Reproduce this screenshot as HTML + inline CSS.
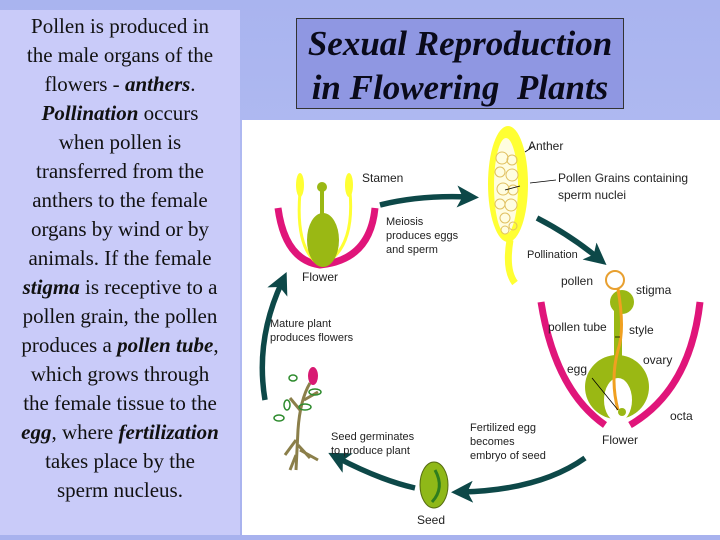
<!DOCTYPE html>
<html><head><meta charset="utf-8"><style>
body{margin:0;width:720px;height:540px;overflow:hidden;background:linear-gradient(180deg,#a9b4ef,#b4bdf3 50%,#a8b2ee);font-family:"Liberation Sans",sans-serif;position:relative}
#lt{position:absolute;left:0;top:10px;width:240px;height:525px;background:#c9cbf9}
#lt div{position:absolute;left:0;width:240px;text-align:center;font-family:"Liberation Serif",serif;font-size:21px;line-height:29px;color:#111}
#ttl{position:absolute;left:296px;top:18px;width:328px;height:91px;background:#8f97e2;border:1px solid #333;box-sizing:border-box;text-align:center;font-family:"Liberation Serif",serif;font-style:italic;font-weight:bold;font-size:35px;line-height:44px;color:#0a0a1a;padding-top:3px}
</style></head><body>
<div id="lt">
<div style="top:2px">Pollen is produced in</div>
<div style="top:31px">the male organs of the</div>
<div style="top:60px">flowers - <b><i>anthers</i></b>.</div>
<div style="top:89px"><b><i>Pollination</i></b> occurs</div>
<div style="top:118px">when pollen is</div>
<div style="top:147px">transferred from the</div>
<div style="top:176px">anthers to the female</div>
<div style="top:205px">organs by wind or by</div>
<div style="top:234px">animals. If the female</div>
<div style="top:263px"><b><i>stigma</i></b> is receptive to a</div>
<div style="top:292px">pollen grain, the pollen</div>
<div style="top:321px">produces a <b><i>pollen tube</i></b>,</div>
<div style="top:350px">which grows through</div>
<div style="top:379px">the female tissue to the</div>
<div style="top:408px"><b><i>egg</i></b>, where <b><i>fertilization</i></b></div>
<div style="top:437px">takes place by the</div>
<div style="top:466px">sperm nucleus.</div>
</div>
<div id="ttl">Sexual Reproduction<br>in Flowering&nbsp; Plants</div>
<svg width="478" height="415" viewBox="242 120 478 415" style="position:absolute;left:242px;top:120px">
<rect x="242" y="120" width="478" height="415" fill="#fff"/>
<defs><marker id="ah" markerWidth="4" markerHeight="4" refX="2" refY="2" orient="auto"><path d="M0,0 L4,2 L0,4 L1,2z" fill="#0d4848"/></marker></defs>
<g fill="none" stroke="#0d4848" stroke-width="5.5" marker-end="url(#ah)">
<path d="M380,205 Q420,195 468,197"/>
<path d="M537,218 Q570,235 598,258"/>
<path d="M585,458 Q540,490 462,492"/>
<path d="M415,488 Q380,480 338,458"/>
<path d="M265,400 Q255,340 282,282"/>
</g>
<path d="M278,208 Q285,260 320,265 Q370,260 375,208" fill="none" stroke="#e0157a" stroke-width="7"/>
<g stroke="#ffff33" stroke-width="3" fill="none"><path d="M300,192 Q295,250 320,265"/><path d="M350,192 Q355,250 322,265"/></g>
<ellipse cx="300" cy="185" rx="4" ry="12" fill="#ffff33"/><ellipse cx="349" cy="185" rx="4" ry="12" fill="#ffff33"/>
<rect x="320" y="190" width="4" height="30" fill="#9ab814"/><circle cx="322" cy="187" r="5" fill="#9ab814"/>
<ellipse cx="323" cy="240" rx="16" ry="27" fill="#9ab814"/>
<path d="M510,240 Q505,270 515,283" stroke="#ffff33" stroke-width="7" fill="none"/>
<ellipse cx="508" cy="184" rx="20" ry="58" fill="#ffff33"/>
<ellipse cx="506" cy="186" rx="12" ry="48" fill="#fffde0"/>
<g fill="none" stroke="#e0c060" stroke-width="1"><circle cx="502" cy="158" r="6"/><circle cx="512" cy="160" r="5"/><circle cx="500" cy="172" r="5"/><circle cx="512" cy="175" r="6"/><circle cx="503" cy="189" r="6"/><circle cx="513" cy="190" r="5"/><circle cx="500" cy="204" r="5"/><circle cx="511" cy="205" r="6"/><circle cx="505" cy="218" r="5"/><circle cx="513" cy="226" r="4"/><circle cx="505" cy="230" r="4"/></g>
<path d="M525,152 L534,146 M530,183 L556,180 M505,190 L520,186" stroke="#000" stroke-width="0.8"/>
<path d="M541,302 Q555,390 605,425 M700,302 Q690,390 630,425" fill="none" stroke="#e0157a" stroke-width="7"/>
<circle cx="617" cy="387" r="32" fill="#9ab814"/>
<ellipse cx="618" cy="400" rx="14" ry="22" fill="#fff"/>
<rect x="614" y="300" width="8" height="65" fill="#9ab814"/>
<circle cx="622" cy="302" r="12" fill="#9ab814"/>
<circle cx="615" cy="280" r="9" fill="#fff" stroke="#e8a030" stroke-width="2"/>
<path d="M618,289 Q625,330 618,350 Q610,380 618,410" stroke="#f0a020" stroke-width="3" fill="none"/>
<circle cx="622" cy="412" r="4" fill="#9ab814"/>
<path d="M592,378 L618,410 M615,337 L620,337" stroke="#000" stroke-width="0.8"/>
<ellipse cx="434" cy="485" rx="14" ry="23" fill="#8fb818" stroke="#556b10"/>
<path d="M435,470 Q445,488 432,502" stroke="#2e7d1e" stroke-width="3" fill="none"/>
<g stroke="#8b7f4a" stroke-width="3" fill="none"><path d="M296,470 L298,430 Q300,400 310,383"/><path d="M296,440 L285,455 M298,445 L310,458 M296,455 L290,470 M300,450 L318,460"/><path d="M300,410 L290,398 M304,400 L318,392"/></g>
<ellipse cx="313" cy="376" rx="5" ry="9" fill="#d81a72"/>
<g fill="none" stroke="#2e8b2e" stroke-width="1.5"><ellipse cx="293" cy="378" rx="4" ry="3"/><ellipse cx="315" cy="392" rx="6" ry="3"/><ellipse cx="287" cy="405" rx="3" ry="5"/><ellipse cx="305" cy="407" rx="6" ry="3"/><ellipse cx="279" cy="418" rx="5" ry="3"/></g>
<g font-size="11" fill="#222" font-family="Liberation Sans,sans-serif">
<text x="362" y="182" font-size="12">Stamen</text>
<text x="302" y="281" font-size="12">Flower</text>
<text x="386" y="225">Meiosis</text><text x="386" y="239">produces eggs</text><text x="386" y="253">and sperm</text>
<text x="528" y="150" font-size="12">Anther</text>
<text x="558" y="182" font-size="12">Pollen Grains containing</text><text x="558" y="199" font-size="12">sperm nuclei</text>
<text x="527" y="258">Pollination</text>
<text x="561" y="285" font-size="12">pollen</text><text x="636" y="294" font-size="12">stigma</text>
<text x="548" y="331" font-size="12">pollen tube</text><text x="629" y="334" font-size="12">style</text>
<text x="643" y="364" font-size="12">ovary</text><text x="567" y="373" font-size="12">egg</text>
<text x="670" y="420" font-size="12">octa</text>
<text x="602" y="444" font-size="12">Flower</text>
<text x="270" y="327">Mature plant</text><text x="270" y="341">produces flowers</text>
<text x="331" y="440">Seed germinates</text><text x="331" y="454">to produce plant</text>
<text x="470" y="431">Fertilized egg</text><text x="470" y="445">becomes</text><text x="470" y="459">embryo of seed</text>
<text x="417" y="524" font-size="12">Seed</text>
</g>
</svg>
</body></html>
